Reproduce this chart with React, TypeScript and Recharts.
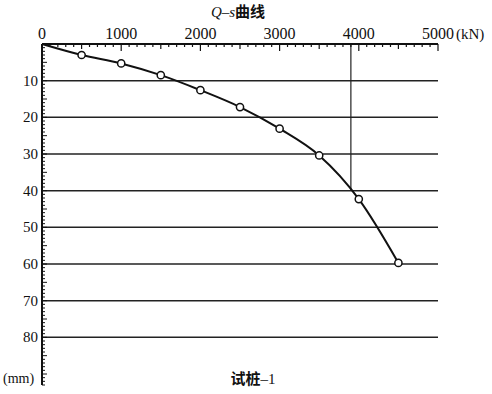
import { LineChart, Line, XAxis, YAxis, ReferenceLine } from "recharts"

const loads = [0, 500, 1000, 1500, 2000, 2500, 3000, 3500, 4000, 4500]
const settlements = [0, 3, 5.3, 8.5, 12.6, 17.2, 23.1, 30.4, 42.3, 59.7]
const xTickValues = Array.from({ length: 51 }, (_, i) => i * 100)
const yTickValues = Array.from({ length: 94 }, (_, i) => i)
const gridLevels = [10, 20, 30, 40, 50, 60, 70, 80]
const limitLoad = 3900
const limitSettlement = 40

const data = loads.map((q, i) => ({ q, s: settlements[i] }))

const FONT = "'Liberation Serif', 'Noto Sans CJK SC', serif"

function XTick(props: any) {
  const { x, y, payload } = props
  const v = payload.value
  const len = v % 1000 === 0 ? 7 : v % 500 === 0 ? 5 : 3
  return (
    <g>
      <line x1={x} y1={y} x2={x} y2={y + len} stroke="#111" strokeWidth={1.2} />
      {v % 1000 === 0 && (
        <text x={x} y={y - 5} textAnchor="middle" fontSize={16} fontFamily={FONT} fill="#111">
          {v}
        </text>
      )}
    </g>
  )
}

function YTick(props: any) {
  const { x, y, payload } = props
  const v = payload.value
  const len = v % 5 === 0 ? 5 : 3
  return (
    <g>
      <line x1={x} y1={y} x2={x + len} y2={y} stroke="#111" strokeWidth={1} />
      {v % 10 === 0 && v > 0 && v < 90 && (
        <text x={x - 4} y={y + 5} textAnchor="end" fontSize={15} fontFamily={FONT} fill="#111">
          {v}
        </text>
      )}
    </g>
  )
}

function PointDot(props: any) {
  const { cx, cy, index } = props
  if (index === 0) return <g key={`d-${index}`} />
  return <circle key={`d-${index}`} cx={cx} cy={cy} r={3.6} fill="#fff" stroke="#111" strokeWidth={1.5} />
}

export default function App() {
  return (
    <div style={{ position: "fixed", left: 0, top: 0, width: 492, height: 394, background: "#fff" }}>
      <LineChart width={492} height={394} data={data} margin={{ top: 43, left: 41, right: 54, bottom: 9 }}>
        <XAxis
          dataKey="q"
          type="number"
          orientation="top"
          domain={[0, 5000]}
          ticks={xTickValues}
          interval={0}
          height={1}
          tickSize={0}
          tickMargin={0}
          tickLine={false}
          tick={<XTick />}
          axisLine={{ stroke: "#111", strokeWidth: 2 }}
        />
        <YAxis
          dataKey="s"
          type="number"
          reversed
          domain={[0, 93]}
          ticks={yTickValues}
          interval={0}
          width={1}
          tickSize={0}
          tickMargin={0}
          tickLine={false}
          tick={<YTick />}
          axisLine={{ stroke: "#111", strokeWidth: 2 }}
        />
        {gridLevels.map((g) => (
          <ReferenceLine key={g} y={g} stroke="#222" strokeWidth={1.5} />
        ))}
        <ReferenceLine
          segment={[
            { x: limitLoad, y: 0 },
            { x: limitLoad, y: limitSettlement },
          ]}
          stroke="#222"
          strokeWidth={1.2}
        />
        <Line
          type="monotone"
          dataKey="s"
          stroke="#111"
          strokeWidth={2}
          dot={<PointDot />}
          isAnimationActive={false}
        />
        <text x={238} y={17} textAnchor="middle" fontSize={15} fill="#111" fontFamily={FONT}>
          <tspan fontStyle="italic">Q</tspan>
          <tspan>–</tspan>
          <tspan fontStyle="italic">s</tspan>
          <tspan fontFamily="'Noto Sans CJK SC'" fontWeight="bold">曲线</tspan>
        </text>
        <text x={456} y={39} fontSize={15} fill="#111" fontFamily={FONT}>
          (kN)
        </text>
        <text x={3} y={383} fontSize={14} fill="#111" fontFamily={FONT}>
          (mm)
        </text>
        <text x={253} y={384} textAnchor="middle" fontSize={15} fill="#111" fontFamily={FONT}>
          <tspan fontFamily="'Noto Sans CJK SC'" fontWeight="bold">试桩</tspan>
          <tspan>–1</tspan>
        </text>
      </LineChart>
    </div>
  )
}
